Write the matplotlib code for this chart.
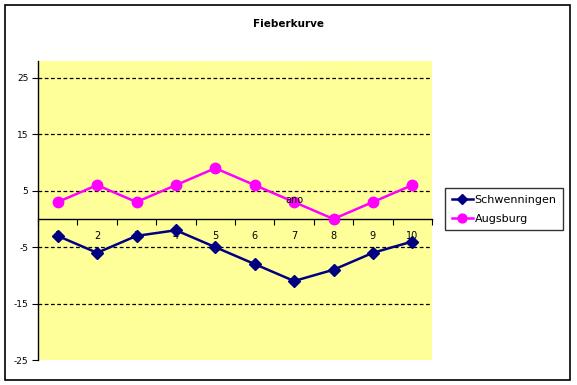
import matplotlib
matplotlib.use("Agg")
import matplotlib.pyplot as plt
from matplotlib.patches import Rectangle
from matplotlib.ticker import FixedLocator

categories = [1, 2, 3, 4, 5, 6, 7, 8, 9, 10]
schwenningen = [-3, -6, -3, -2, -5, -8, -11, -9, -6, -4]
augsburg = [3, 6, 3, 6, 9, 6, 3, 0, 3, 6]
y_ticks = [-25, -15, -5, 5, 15, 25]

fig = plt.figure(figsize=(5.77, 3.85), dpi=100)
fig.patch.set_facecolor("white")
fig.patches.append(Rectangle((5/577, 5/385), 565/577, 375/385, transform=fig.transFigure,
                             fill=False, edgecolor="black", linewidth=1.2))

ax = fig.add_axes([38/577, 1-360/385, 394/577, 299/385])
ax.set_facecolor("#FFFF99")
ax.set_xlim(0.5, 10.5)
ax.set_ylim(-25, 28)

for y in [-15, -5, 5, 15, 25]:
    ax.axhline(y, color="black", linestyle=(0, (3, 2)), linewidth=0.9, zorder=1)

ax.plot(categories, schwenningen, color="#000080", marker="D", markersize=6,
        linewidth=1.8, label="Schwenningen", zorder=3)
ax.plot(categories, augsburg, color="#FF00FF", marker="o", markersize=7.5,
        linewidth=1.8, label="Augsburg", zorder=3)

for s in ["top", "right"]:
    ax.spines[s].set_visible(False)
ax.spines["bottom"].set_position(("data", 0))
ax.spines["bottom"].set_linewidth(1.0)
ax.spines["left"].set_linewidth(1.0)

ax.set_xticks(categories)
ax.set_xticklabels([str(c) for c in categories])
ax.xaxis.set_minor_locator(FixedLocator([0.5 + i for i in range(11)]))
ax.tick_params(axis="x", which="major", length=0, pad=9, labelsize=7)
ax.tick_params(axis="x", which="minor", length=4, direction="out", width=0.8)
ax.set_yticks(y_ticks)
ax.set_yticklabels([str(v) for v in y_ticks])
ax.tick_params(axis="y", length=4, direction="out", width=0.8, labelsize=6.5, pad=3)

ax.text(7, 3.3, "ano", ha="center", va="center", fontsize=7, zorder=4)

fig.text(288/577, 1-24/385, "Fieberkurve", ha="center", va="center", fontsize=7.5,
         fontweight="bold")

leg = ax.legend(loc="upper left", bbox_to_anchor=(445/577, 1-188/385),
                bbox_transform=fig.transFigure, fontsize=8, frameon=True,
                fancybox=False, handlelength=1.9, borderpad=0.6, labelspacing=0.8,
                handletextpad=0.15, borderaxespad=0, markerscale=0.85)
leg.get_frame().set_edgecolor("black")
leg.get_frame().set_linewidth(1.0)

fig.savefig("out.png", dpi=100)
